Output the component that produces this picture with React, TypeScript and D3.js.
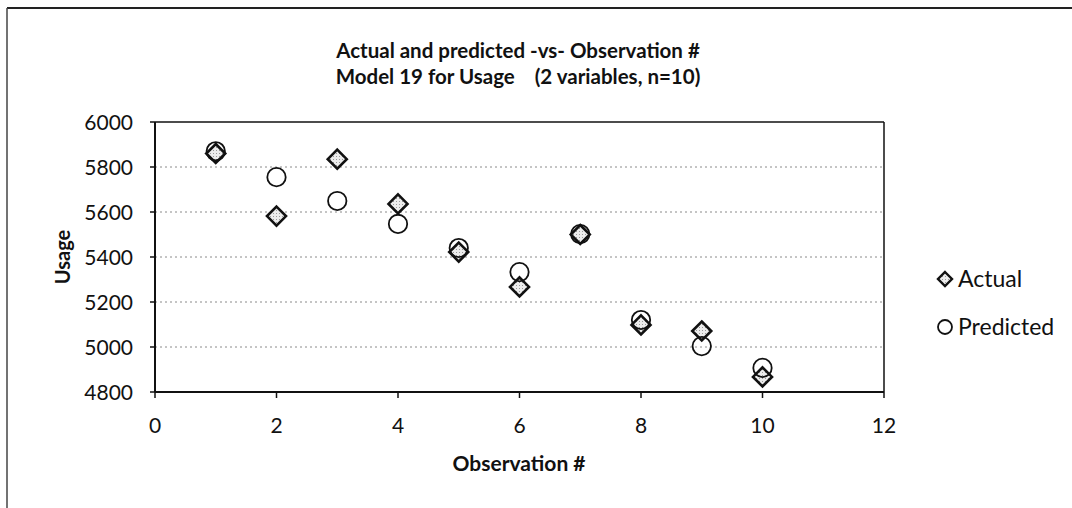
import React from "react";
import * as d3 from "d3";

const observations = [1, 2, 3, 4, 5, 6, 7, 8, 9, 10];
const actual = [5860, 5582, 5835, 5636, 5422, 5267, 5500, 5098, 5071, 4867];
const predicted = [5870, 5755, 5649, 5547, 5440, 5333, 5502, 5120, 5004, 4907];
const xTicks = [0, 2, 4, 6, 8, 10, 12];
const yTicks = [4800, 5000, 5200, 5400, 5600, 5800, 6000];
const titleLines = ["Actual and predicted -vs- Observation #", "Model 19 for Usage    (2 variables, n=10)"];
const seriesNames = ["Actual", "Predicted"];

const W = 1072;
const H = 508;
const plot = { left: 155, right: 884, top: 122, bottom: 392 };
const FONT = "Lato, 'Open Sans', sans-serif";

function diamondPath(cx: number, cy: number, r: number) {
  return `M${cx},${cy - r}L${cx + r},${cy}L${cx},${cy + r}L${cx - r},${cy}Z`;
}

export default function App() {
  const x = d3.scaleLinear().domain([0, 12]).range([plot.left, plot.right]);
  const y = d3.scaleLinear().domain([4800, 6000]).range([plot.bottom, plot.top]);

  return (
    <svg
      width={W}
      height={H}
      style={{ position: "absolute", left: 0, top: 0, background: "#fff" }}
      fontFamily={FONT}
    >
      <defs>
        <pattern id="stipple" width="3" height="3" patternUnits="userSpaceOnUse">
          <rect width="3" height="3" fill="#ececec" />
          <rect width="1" height="1" fill="#9a9a9a" />
        </pattern>
      </defs>
      <rect x={0} y={0} width={W} height={H} fill="#fff" />
      {/* outer chart border (top & left only visible) */}
      <line x1={7} y1={8} x2={W} y2={8} stroke="#222" strokeWidth={2} />
      <line x1={7} y1={8} x2={7} y2={H} stroke="#444" strokeWidth={1.5} />

      {/* title */}
      {titleLines.map((t, i) => (
        <text
          key={i}
          x={518}
          y={58 + i * 26}
          textAnchor="middle"
          fontSize={20.5}
          fontWeight="bold"
          fill="#111"
          style={{ whiteSpace: "pre" }}
        >
          {t}
        </text>
      ))}

      {/* gridlines */}
      {yTicks.filter((t) => t !== 4800 && t !== 6000).map((t) => (
        <line
          key={t}
          x1={plot.left}
          x2={plot.right}
          y1={y(t)}
          y2={y(t)}
          stroke="#8a8a8a"
          strokeWidth={1}
          strokeDasharray="2,3"
        />
      ))}

      {/* plot border */}
      <line x1={plot.left} x2={plot.right} y1={plot.top} y2={plot.top} stroke="#111" strokeWidth={1.5} />
      <line x1={plot.right} x2={plot.right} y1={plot.top} y2={plot.bottom} stroke="#111" strokeWidth={1.5} />
      <line x1={plot.left} x2={plot.right} y1={plot.bottom} y2={plot.bottom} stroke="#111" strokeWidth={2} />
      <line x1={plot.left} x2={plot.left} y1={plot.top} y2={plot.bottom} stroke="#111" strokeWidth={2} />

      {/* y ticks */}
      {yTicks.map((t) => (
        <g key={t}>
          <line x1={plot.left - 5} x2={plot.left} y1={y(t)} y2={y(t)} stroke="#111" strokeWidth={1.5} />
          <text x={133} y={y(t)} dy="0.36em" textAnchor="end" fontSize={21} fill="#111">
            {t}
          </text>
        </g>
      ))}

      {/* x ticks */}
      {xTicks.map((t) => (
        <g key={t}>
          <line x1={x(t)} x2={x(t)} y1={plot.bottom} y2={plot.bottom + 6} stroke="#111" strokeWidth={1.5} />
          <text x={x(t)} y={433} textAnchor="middle" fontSize={21} fill="#111">
            {t}
          </text>
        </g>
      ))}

      {/* axis titles */}
      <text x={519} y={471} textAnchor="middle" fontSize={21} fontWeight="bold" fill="#111">
        Observation #
      </text>
      <text
        transform={`translate(70,${(plot.top + plot.bottom) / 2}) rotate(-90)`}
        textAnchor="middle"
        fontSize={20}
        fontWeight="bold"
        fill="#111"
      >
        Usage
      </text>

      {/* actual markers */}
      {observations.map((o, i) => (
        <path
          key={"a" + o}
          d={diamondPath(x(o), y(actual[i]), 9.5)}
          fill="url(#stipple)"
          stroke="#111"
          strokeWidth={2.6}
        />
      ))}
      {/* predicted markers */}
      {observations.map((o, i) => (
        <circle
          key={"p" + o}
          cx={x(o)}
          cy={y(predicted[i])}
          r={9.2}
          fill="none"
          stroke="#111"
          strokeWidth={1.8}
        />
      ))}

      {/* legend */}
      <path d={diamondPath(945, 279, 7)} fill="url(#stipple)" stroke="#111" strokeWidth={2.4} />
      <text x={958} y={279} dy="0.36em" fontSize={23} fill="#111">
        {seriesNames[0]}
      </text>
      <circle cx={945} cy={327} r={7} fill="none" stroke="#111" strokeWidth={1.8} />
      <text x={958} y={327} dy="0.36em" fontSize={23} fill="#111">
        {seriesNames[1]}
      </text>
    </svg>
  );
}
